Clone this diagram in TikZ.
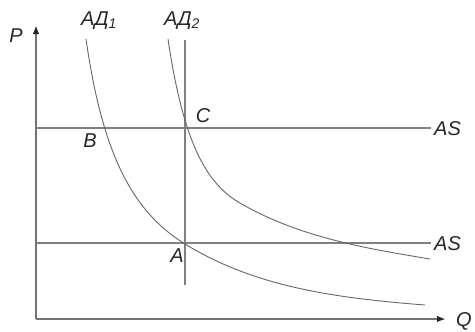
\documentclass[tikz,border=0pt]{standalone}
\usepackage{fontspec}
\setmainfont{Liberation Sans}
\usetikzlibrary{arrows.meta}
\begin{document}
\begin{tikzpicture}[x=1pt,y=-1pt,
  axis/.style={draw=black!55,line width=1.8pt,-{Latex[length=9pt,width=6.5pt,color=black!85]}},
  asline/.style={draw=black!50,line width=1.4pt},
  vline/.style={draw=black!50,line width=1.1pt},
  adcurve/.style={draw=black!60,line width=0.9pt},
  lbl/.style={font=\fontsize{20}{22}\selectfont\itshape,text=black!85,inner sep=0pt}]
\useasboundingbox (0,0) rectangle (475,332);
% axes
\coordinate (O) at (36,319);
\coordinate (Ptip) at (36,25);
\coordinate (Qtip) at (446,319);
\draw[axis] (O) -- (Ptip);
\draw[axis] (O) -- (Qtip);
\node[lbl] (P) at (16,36) {P};
\node[lbl] (Q) at (464,321) {Q};
% AS lines
\coordinate (as1s) at (36,128);
\coordinate (as1e) at (431,128);
\coordinate (as2s) at (36,243);
\coordinate (as2e) at (431,243);
\draw[asline] (as1s) -- (as1e);
\draw[asline] (as2s) -- (as2e);
\node[lbl,anchor=west] (AS1) at (434,129) {AS};
\node[lbl,anchor=west] (AS2) at (434,244) {AS};
% vertical line
\coordinate (vt) at (185,40);
\coordinate (vb) at (185,285);
\draw[vline] (vt) -- (vb);
% AD curves
\coordinate (d1s) at (86,39);
\coordinate (d1m) at (185,244);
\coordinate (d1e) at (425,305);
\draw[adcurve] (d1s) .. controls (102,150) and (130,210) .. (d1m)
  .. controls (255,287) and (335,298) .. (d1e);
\coordinate (d2s) at (168,39);
\coordinate (d2m) at (240,203);
\coordinate (d2e) at (430,259);
\draw[adcurve] (d2s) .. controls (183,140) and (205,183) .. (d2m)
  .. controls (300,238) and (370,249) .. (d2e);
% labels
\node[lbl] (AD1) at (99,21) {АД$_{\mathit 1}$};
\node[lbl] (AD2) at (182,21) {АД$_{\mathit 2}$};
\node[lbl] (C) at (203,116) {C};
\node[lbl] (B) at (90,141) {B};
\node[lbl] (A) at (177,256) {A};
\end{tikzpicture}
\end{document}
